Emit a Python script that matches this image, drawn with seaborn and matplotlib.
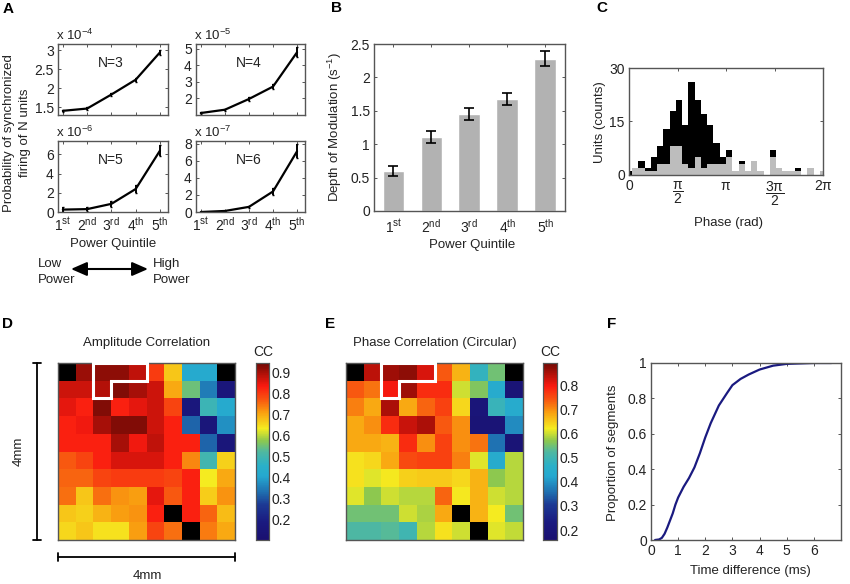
import numpy as np
import pandas as pd
import matplotlib
matplotlib.use('Agg')
import matplotlib.pyplot as plt
import seaborn as sns
from matplotlib.colors import LinearSegmentedColormap
from matplotlib.patches import Polygon, FancyArrowPatch

sns.set_theme(style='ticks', color_codes=False)
plt.rcParams['font.family'] = ['Liberation Sans', 'DejaVu Sans']
plt.rcParams['mathtext.fontset'] = 'custom'
plt.rcParams['mathtext.rm'] = 'Liberation Sans'
plt.rcParams['mathtext.it'] = 'Liberation Sans'
plt.rcParams['mathtext.default'] = 'regular'
plt.rcParams['text.color'] = '#222222'
plt.rcParams['xtick.labelcolor'] = '#222222'
plt.rcParams['ytick.labelcolor'] = '#222222'

# panel A
quintiles = [1, 2, 3, 4, 5]
quintile_labels = ['$1^{st}$', '$2^{nd}$', '$3^{rd}$', '$4^{th}$', '$5^{th}$']
n3 = [1.41, 1.47, 1.84, 2.23, 2.95]
n3_err = [0.03, 0.03, 0.04, 0.05, 0.07]
n4 = [1.12, 1.32, 1.97, 2.72, 4.8]
n4_err = [0.07, 0.07, 0.1, 0.15, 0.3]
n5 = [0.25, 0.3, 0.85, 2.4, 6.4]
n5_err = [0.25, 0.2, 0.3, 0.4, 0.6]
n6 = [0.0, 0.12, 0.6, 2.4, 7.1]
n6_err = [0.05, 0.05, 0.15, 0.4, 0.8]

# panel B
depth = [0.6, 1.11, 1.45, 1.68, 2.28]
depth_err = [0.08, 0.09, 0.09, 0.09, 0.11]

# panel C, stacked histogram
units_total = [1, 2, 4, 2, 5, 8, 13, 18, 21, 14, 26, 21, 17, 14, 9, 5, 7, 1, 4, 1, 4, 1, 0, 7, 2, 1, 1, 2, 0, 2, 0, 1]
units_gray = [0, 2, 2, 1, 1, 3, 3, 8, 8, 3, 2, 5, 2, 3, 3, 3, 5, 1, 3, 1, 4, 1, 0, 5, 2, 1, 1, 1, 0, 2, 0, 1]

# panel D and E
nan = np.nan
amp_corr = [
    [nan, .91, .92, .92, .88, .80, .67, .42, .42, nan],
    [.87, .87, .89, .93, .90, .87, .70, .55, .35, .16],
    [.85, .83, .93, .83, .85, .87, .79, .17, .49, .42],
    [.83, .84, .90, .93, .93, .87, .83, .32, .16, .375],
    [.83, .83, .83, .90, .84, .88, .83, .83, .32, .16],
    [.77, .79, .83, .86, .86, .86, .83, .73, .50, .66],
    [.76, .76, .79, .80, .80, .80, .79, .83, .635, .70],
    [.75, .67, .75, .72, .71, .85, .77, .83, .665, .72],
    [.67, .66, .69, .71, .72, .83, nan, .83, .76, .68],
    [.655, .67, .645, .645, .71, .79, .75, nan, .74, .70],
]
phase_corr = [
    [nan, .84, .86, .87, .82, .74, .67, .48, .55, nan],
    [.74, .72, .80, .86, .78, .78, .60, .56, .44, .19],
    [.71, .68, .85, .68, .73, .76, .64, .20, .49, .44],
    [.68, .70, .78, .83, .85, .74, .70, .19, .19, .39],
    [.68, .68, .67, .78, .70, .76, .70, .72, .36, .19],
    [.63, .64, .68, .75, .76, .76, .71, .61, .44, .59],
    [.63, .61, .625, .645, .65, .65, .64, .67, .57, .59],
    [.61, .57, .60, .59, .59, .73, .625, .67, .60, .59],
    [.55, .55, .55, .60, .585, .68, nan, .67, .62, .55],
    [.52, .52, .53, .50, .59, .63, .60, nan, .61, .595],
]

# panel F
time_diff = [0.15, 0.3, 0.4, 0.5, 0.6, 0.7, 0.8, 0.9, 1.0, 1.2, 1.4, 1.6, 1.8, 2.0, 2.2, 2.5, 2.8, 3.0, 3.3, 3.6, 4.0, 4.5, 5.0, 6.0, 6.65]
proportion = [0.0, 0.003, 0.012, 0.035, 0.07, 0.11, 0.15, 0.2, 0.24, 0.3, 0.35, 0.41, 0.49, 0.58, 0.66, 0.76, 0.83, 0.875, 0.91, 0.935, 0.963, 0.985, 0.995, 1.0, 1.0]

# muted jet, colours picked off the colorbar
cmap_stops = [(0, '#1a1070'), (.1, '#1a1a80'), (.2, '#1c3a94'), (.27, '#1f6fb0'), (.36, '#25a8d0'), (.42, '#2ab0c8'),
              (.5, '#50b8a0'), (.56, '#8cc850'), (.63, '#f5ec20'), (.72, '#f9a010'), (.8, '#f85010'), (.87, '#fa1a10'),
              (.94, '#b01008'), (1, '#700a05')]
muted_jet = LinearSegmentedColormap.from_list('muted_jet', cmap_stops)

W, H = 850, 584
FS = 9.5
fig = plt.figure(figsize=(8.5, 5.84), dpi=100)
AXC = '#555555'


def px_ax(l, t, r, b):
    return fig.add_axes([l / W, 1 - b / H, (r - l) / W, (b - t) / H])


def label(x, y, s, **kw):
    kw.setdefault('fontsize', FS)
    fig.text(x / W, 1 - y / H, s, ha=kw.pop('ha', 'center'), va=kw.pop('va', 'center'), **kw)


def matlab_box(ax):
    # ticks inside on all four sides
    for sp in ax.spines.values():
        sp.set_visible(True)
        sp.set_color(AXC)
        sp.set_linewidth(1.0)
    ax.tick_params(direction='in', top=True, right=True, length=2.5, width=0.7, color=AXC, labelsize=FS + 0.5, pad=3)


def sync_panel(box, y, err, ylim, yticks, ylabels, name, exponent, xlabels):
    ax = px_ax(*box)
    sns.lineplot(x=quintiles, y=y, color='#000000', lw=1.6, ax=ax, errorbar=None)
    ax.errorbar(quintiles, y, yerr=err, fmt='none', ecolor='#000000', elinewidth=1.4, capsize=0.8)
    ax.set_xlim(0.8, 5.33)
    ax.set_ylim(*ylim)
    ax.set_xticks(quintiles)
    ax.set_xticklabels(xlabels)
    ax.set_yticks(yticks)
    ax.set_yticklabels(ylabels)
    matlab_box(ax)
    ax.text(0.48, 0.73, name, transform=ax.transAxes, ha='center', va='center', fontsize=FS + 0.5)
    label(box[0] - 2, box[1] - 9, 'x 10$^{%s}$' % exponent, ha='left')


no_labels = [''] * 5
sync_panel((58, 44, 168, 115), n3, n3_err, (1.3, 3.17), [1.5, 2, 2.5, 3], ['1.5', '2', '2.5', '3'], 'N=3', '-4', no_labels)
sync_panel((196, 44, 305, 115), n4, n4_err, (1.0, 5.3), [2, 3, 4, 5], ['2', '3', '4', '5'], 'N=4', '-5', no_labels)
sync_panel((58, 141, 168, 212), n5, n5_err, (0, 7.4), [0, 2, 4, 6], ['0', '2', '4', '6'], 'N=5', '-6', quintile_labels)
sync_panel((196, 141, 305, 212), n6, n6_err, (0, 8.3), [0, 2, 4, 6, 8], ['0', '2', '4', '6', '8'], 'N=6', '-7', quintile_labels)

label(17, 133, 'Probability of synchronized\nfiring of N units', rotation=90, linespacing=1.45)
label(113, 244, 'Power Quintile')
label(38, 264, 'Low', ha='left')
label(38, 280, 'Power', ha='left')
label(153, 264, 'High', ha='left')
label(153, 280, 'Power', ha='left')
fig.add_artist(FancyArrowPatch((71 / W, 1 - 269 / H), (148 / W, 1 - 269 / H), transform=fig.transFigure,
                               arrowstyle='<|-|>,head_length=0.8,head_width=0.35', mutation_scale=12,
                               color='#000000', lw=1.5, shrinkA=0, shrinkB=0))

# panel B
ax = px_ax(374, 44, 565, 211)
df_b = pd.DataFrame({'quintile': quintile_labels, 'depth': depth})
sns.barplot(data=df_b, x='quintile', y='depth', color='#b2b2b2', saturation=1, width=0.57, ax=ax, errorbar=None)
ax.errorbar(range(5), depth, yerr=depth_err, fmt='none', ecolor='#000000', elinewidth=1.2, capsize=3.6, capthick=1.2)
ax.set_xlim(-0.51, 4.52)
ax.set_ylim(0, 2.5)
ax.set_yticks([0, 0.5, 1, 1.5, 2, 2.5])
ax.set_yticklabels(['0', '0.5', '1', '1.5', '2', '2.5'])
ax.set_xlabel('')
ax.set_ylabel('')
matlab_box(ax)
ax.tick_params(axis='x', pad=5)
label(335, 127, 'Depth of Modulation (s$^{-1}$)', rotation=90)
label(472, 245, 'Power Quintile')

# panel C
ax = px_ax(629, 68, 823, 175)
bin_w = 2 * np.pi / 31
centers = np.arange(len(units_total)) * bin_w
edges = (np.arange(len(units_total) + 1) - 0.5) * bin_w
sns.histplot(x=centers, weights=units_total, bins=list(edges), color='#000000', alpha=1, linewidth=0, ax=ax)
sns.histplot(x=centers, weights=units_gray, bins=list(edges), color='#bdbdbd', alpha=1, linewidth=0, ax=ax)
ax.set_xlim(0, 2 * np.pi)
ax.set_ylim(0, 30)
ax.set_yticks([0, 15, 30])
ax.set_xticks(np.arange(5) * np.pi / 2)
ax.set_xticklabels(['0', r'$\dfrac{\pi}{2}$', r'$\pi$', r'$\dfrac{3\pi}{2}$', r'$2\pi$'])
ax.set_xlabel('')
ax.set_ylabel('')
matlab_box(ax)
label(600, 122, 'Units (counts)', rotation=90)
label(728, 223, 'Phase (rad)')


def corr_panel(box, cbox, data, vmin, vmax, cticks, title, title_x, cc_x):
    ax = px_ax(*box)
    cax = px_ax(*cbox)
    ax.set_facecolor('#000000')
    arr = np.array(data)
    sns.heatmap(arr, mask=np.isnan(arr), cmap=muted_jet, vmin=vmin, vmax=vmax, square=False, xticklabels=False,
                yticklabels=False, ax=ax, cbar_ax=cax)
    cax.set_yticks(cticks)
    cax.set_yticklabels(['%.1f' % c for c in cticks])
    cax.tick_params(direction='in', length=2, width=0.6, color='#333333', labelsize=FS + 0.5, pad=2, right=True, left=True)
    for sp in cax.spines.values():
        sp.set_visible(True)
        sp.set_color(AXC)
        sp.set_linewidth(0.8)
    for sp in ax.spines.values():
        sp.set_visible(True)
        sp.set_color(AXC)
        sp.set_linewidth(1.0)
    ax.add_patch(Polygon([(2, 0), (5, 0), (5, 1), (3, 1), (3, 2), (2, 2)], closed=True, fill=False,
                         edgecolor='white', lw=2.2, clip_on=False, zorder=5))
    label(title_x, 343, title)
    label(cc_x, 352, 'CC', fontsize=10)


corr_panel((58, 363, 235, 540), (256, 363, 269, 540), amp_corr, 0.105, 0.945,
           [.2, .3, .4, .5, .6, .7, .8, .9], 'Amplitude Correlation', 147, 263)
corr_panel((346, 363, 523, 540), (543, 363, 557, 540), phase_corr, 0.159, 0.892,
           [.2, .3, .4, .5, .6, .7, .8], 'Phase Correlation (Circular)', 435, 550)

# scale bars
bars = px_ax(0, 0, W, H)
bars.set_xlim(0, W)
bars.set_ylim(H, 0)
bars.axis('off')
bars.patch.set_alpha(0)
bars.plot([37, 37], [363, 540], color='#000000', lw=1.3)
bars.plot([33, 41], [363, 363], color='#000000', lw=1.3)
bars.plot([33, 41], [540, 540], color='#000000', lw=1.3)
bars.plot([58, 235], [557, 557], color='#000000', lw=1.3)
bars.plot([58, 58], [553, 561], color='#000000', lw=1.3)
bars.plot([235, 235], [553, 561], color='#000000', lw=1.3)
label(19, 451, '4mm', rotation=90)
label(147, 576, '4mm')

# panel F
ax = px_ax(651, 363, 841, 540)
sns.lineplot(x=time_diff, y=proportion, color='#1a1a80', lw=1.6, ax=ax, errorbar=None)
ax.set_xlim(0, 7)
ax.set_ylim(0, 1)
ax.set_xticks([0, 1, 2, 3, 4, 5, 6])
ax.set_yticks([0, 0.2, 0.4, 0.6, 0.8, 1])
ax.set_yticklabels(['0', '0.2', '0.4', '0.6', '0.8', '1'])
matlab_box(ax)
label(613, 453, 'Proportion of segments', rotation=90)
label(750, 571, 'Time difference (ms)')

# panel letters
for s, x, y in [('A', 8, 9), ('B', 336, 8), ('C', 602, 8), ('D', 8, 324), ('E', 330, 324), ('F', 612, 324)]:
    label(x, y, s, fontweight='bold', fontsize=11, color='#000000')

fig.savefig('out.png', dpi=100)
